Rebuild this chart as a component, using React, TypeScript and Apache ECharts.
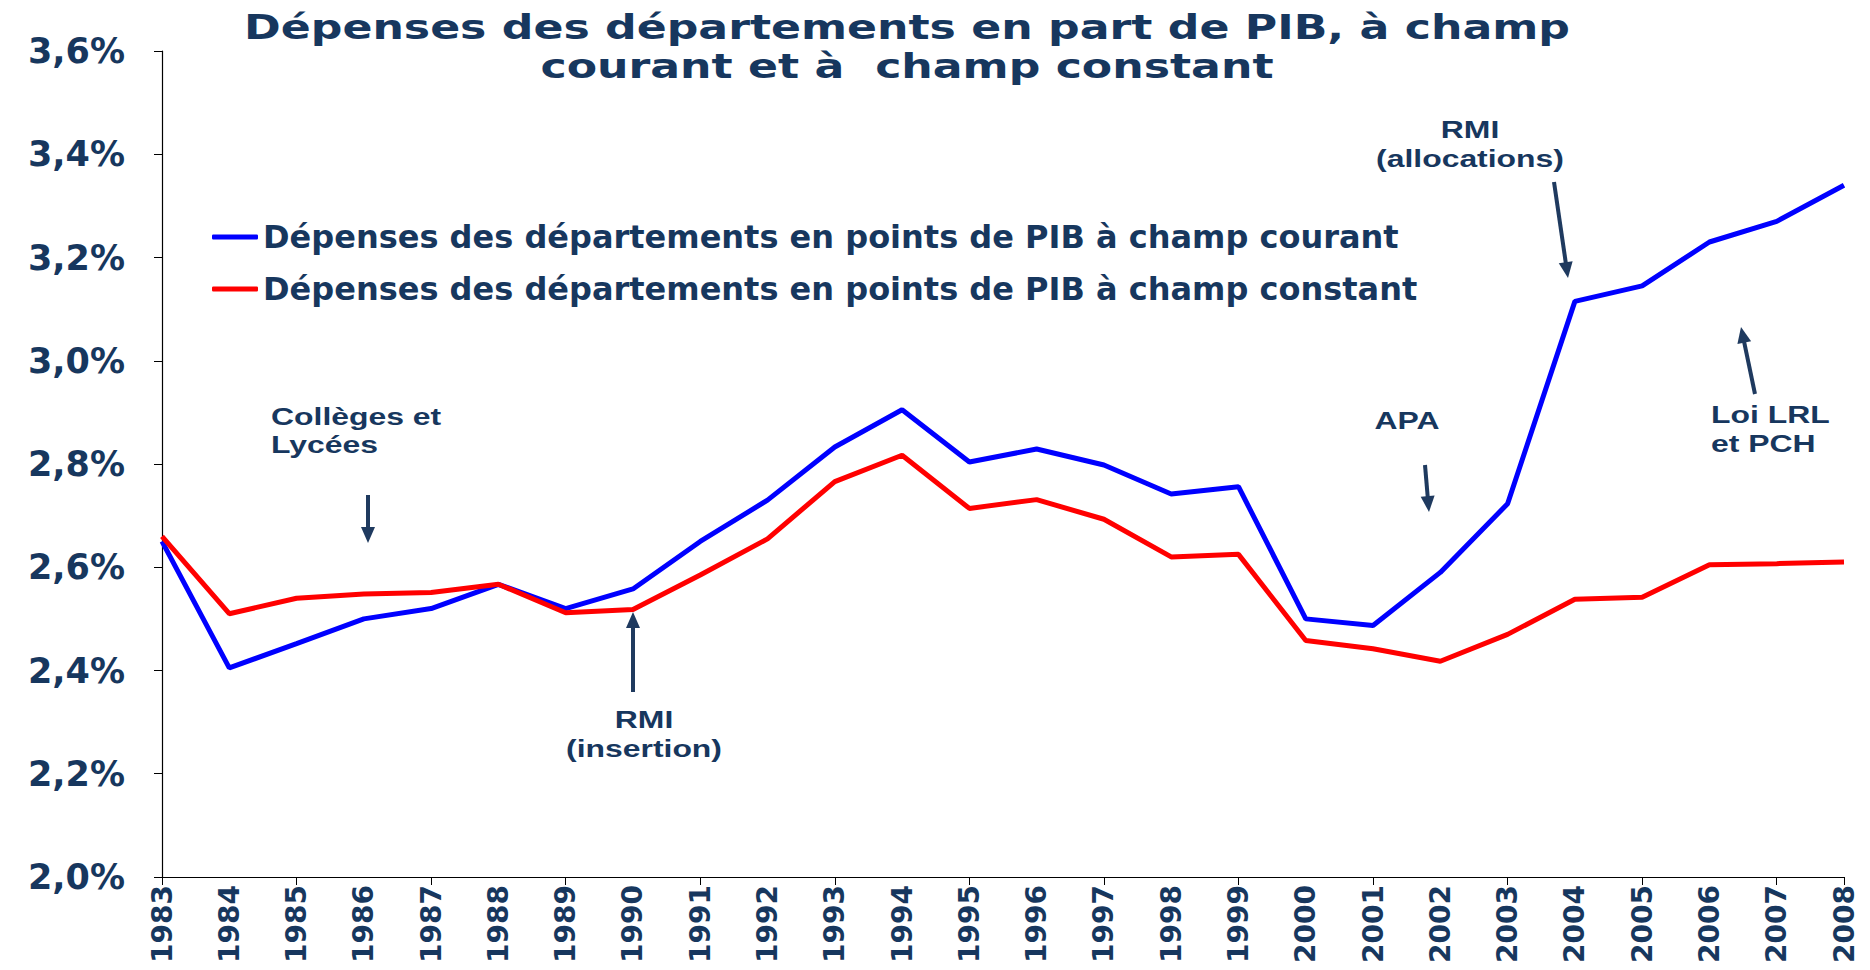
import React, { useEffect, useRef } from 'react';
import * as echarts from 'echarts';

const years = ['1983','1984','1985','1986','1987','1988','1989','1990','1991','1992','1993','1994','1995','1996','1997','1998','1999','2000','2001','2002','2003','2004','2005','2006','2007','2008'];

const champCourant = [2.65, 2.405, 2.452, 2.50, 2.52, 2.567, 2.52, 2.558, 2.65, 2.73, 2.833, 2.905, 2.804, 2.829, 2.798, 2.742, 2.756, 2.50, 2.487, 2.59, 2.723, 3.115, 3.145, 3.23, 3.27, 3.34];

const champConstant = [2.66, 2.51, 2.54, 2.548, 2.551, 2.567, 2.512, 2.518, 2.585, 2.655, 2.766, 2.817, 2.714, 2.731, 2.693, 2.62, 2.625, 2.458, 2.442, 2.418, 2.47, 2.538, 2.542, 2.605, 2.607, 2.61];

const seriesNames = [
  'Dépenses des départements en points de PIB à champ courant',
  'Dépenses des départements en points de PIB à champ constant',
];

const titleLines = [
  'Dépenses des départements en part de PIB, à champ',
  'courant et à  champ constant',
];

const NAVY = '#17375E';
const ARROW = '#1F3A5F';
const VERDANA = '"DejaVu Sans", Verdana, sans-serif';
const ARIAL = '"Liberation Sans", Arial, sans-serif';

function arrow(x1: number, y1: number, x2: number, y2: number) {
  const dx = x2 - x1;
  const dy = y2 - y1;
  const len = Math.sqrt(dx * dx + dy * dy);
  const ux = dx / len;
  const uy = dy / len;
  const headLen = 16;
  const headHalf = 7;
  const bx = x2 - ux * headLen;
  const by = y2 - uy * headLen;
  const nx = -uy;
  const ny = ux;
  return [
    {
      type: 'line',
      shape: { x1, y1, x2: bx + ux * 2, y2: by + uy * 2 },
      style: { stroke: ARROW, lineWidth: 4 },
      silent: true,
    },
    {
      type: 'polygon',
      shape: {
        points: [
          [x2, y2],
          [bx + nx * headHalf, by + ny * headHalf],
          [bx - nx * headHalf, by - ny * headHalf],
        ],
      },
      style: { fill: ARROW },
      silent: true,
    },
  ];
}

function note(text: string, x: number, y: number, align: string) {
  return {
    type: 'text',
    x,
    y,
    scaleX: 1.33,
    silent: true,
    style: {
      text,
      font: `bold 24px ${ARIAL}`,
      fill: NAVY,
      textAlign: align,
      textVerticalAlign: 'middle',
    },
  };
}

function titleText(text: string, y: number) {
  return {
    type: 'text',
    x: 907,
    y,
    scaleX: 1.3,
    silent: true,
    style: {
      text,
      font: `bold 34px ${VERDANA}`,
      fill: NAVY,
      textAlign: 'center',
      textVerticalAlign: 'middle',
    },
  };
}

export default function App() {
  const ref = useRef<HTMLDivElement>(null);

  useEffect(() => {
    document.body.style.margin = '0';
    if (!ref.current) return;
    const chart = echarts.init(ref.current, undefined, { renderer: 'svg' });
    const option: any = {
      animation: false,
      backgroundColor: '#ffffff',
      grid: { left: 162, right: 26, top: 51, bottom: 93, containLabel: false },
      legend: {
        orient: 'vertical',
        left: 207,
        top: 214,
        itemWidth: 46,
        itemHeight: 5,
        itemGap: 16,
        icon: 'roundRect',
        textStyle: {
          fontFamily: VERDANA,
          fontWeight: 'bold',
          fontSize: 32,
          color: NAVY,
          lineHeight: 36,
        },
        data: seriesNames,
      },
      xAxis: {
        type: 'category',
        data: years,
        boundaryGap: false,
        axisLine: { lineStyle: { color: '#000', width: 1.2 } },
        axisTick: { show: true, interval: 1, length: 8, lineStyle: { color: '#000' } },
        axisLabel: {
          interval: 0,
          rotate: 90,
          margin: 8,
          fontFamily: VERDANA,
          fontWeight: 'bold',
          fontSize: 28,
          color: NAVY,
        },
        splitLine: { show: false },
      },
      yAxis: {
        type: 'value',
        min: 2.0,
        max: 3.6,
        interval: 0.2,
        axisLine: { show: true, lineStyle: { color: '#000', width: 1.2 } },
        axisTick: { show: true, length: 8, lineStyle: { color: '#000' } },
        axisLabel: {
          margin: 37,
          fontFamily: VERDANA,
          fontWeight: 'bold',
          fontSize: 35,
          color: NAVY,
          formatter: (v: number) => v.toFixed(1).replace('.', ',') + '%',
        },
        splitLine: { show: false },
      },
      series: [
        {
          name: seriesNames[0],
          type: 'line',
          data: champCourant,
          symbol: 'none',
          lineStyle: { color: '#0000FF', width: 5 },
          itemStyle: { color: '#0000FF' },
          z: 2,
        },
        {
          name: seriesNames[1],
          type: 'line',
          data: champConstant,
          symbol: 'none',
          lineStyle: { color: '#FF0000', width: 5 },
          itemStyle: { color: '#FF0000' },
          z: 3,
        },
      ],
      graphic: {
        elements: [
          titleText(titleLines[0], 27),
          titleText(titleLines[1], 66),
          note('Collèges et', 271, 417, 'left'),
          note('Lycées', 271, 445, 'left'),
          ...arrow(368, 495, 368, 543),
          note('RMI', 644, 720, 'center'),
          note('(insertion)', 644, 749, 'center'),
          ...arrow(633, 692, 633, 612),
          note('APA', 1407, 421, 'center'),
          ...arrow(1425, 465, 1429, 512),
          note('RMI', 1470, 130, 'center'),
          note('(allocations)', 1470, 159, 'center'),
          ...arrow(1554, 182, 1568, 278),
          note('Loi LRL', 1711, 415, 'left'),
          note('et PCH', 1711, 444, 'left'),
          ...arrow(1755, 394, 1741, 327),
        ],
      },
    };
    chart.setOption(option);
    return () => {
      chart.dispose();
    };
  }, []);

  return (
    <div
      ref={ref}
      style={{ position: 'absolute', left: 0, top: 0, width: '1870px', height: '970px' }}
    />
  );
}
